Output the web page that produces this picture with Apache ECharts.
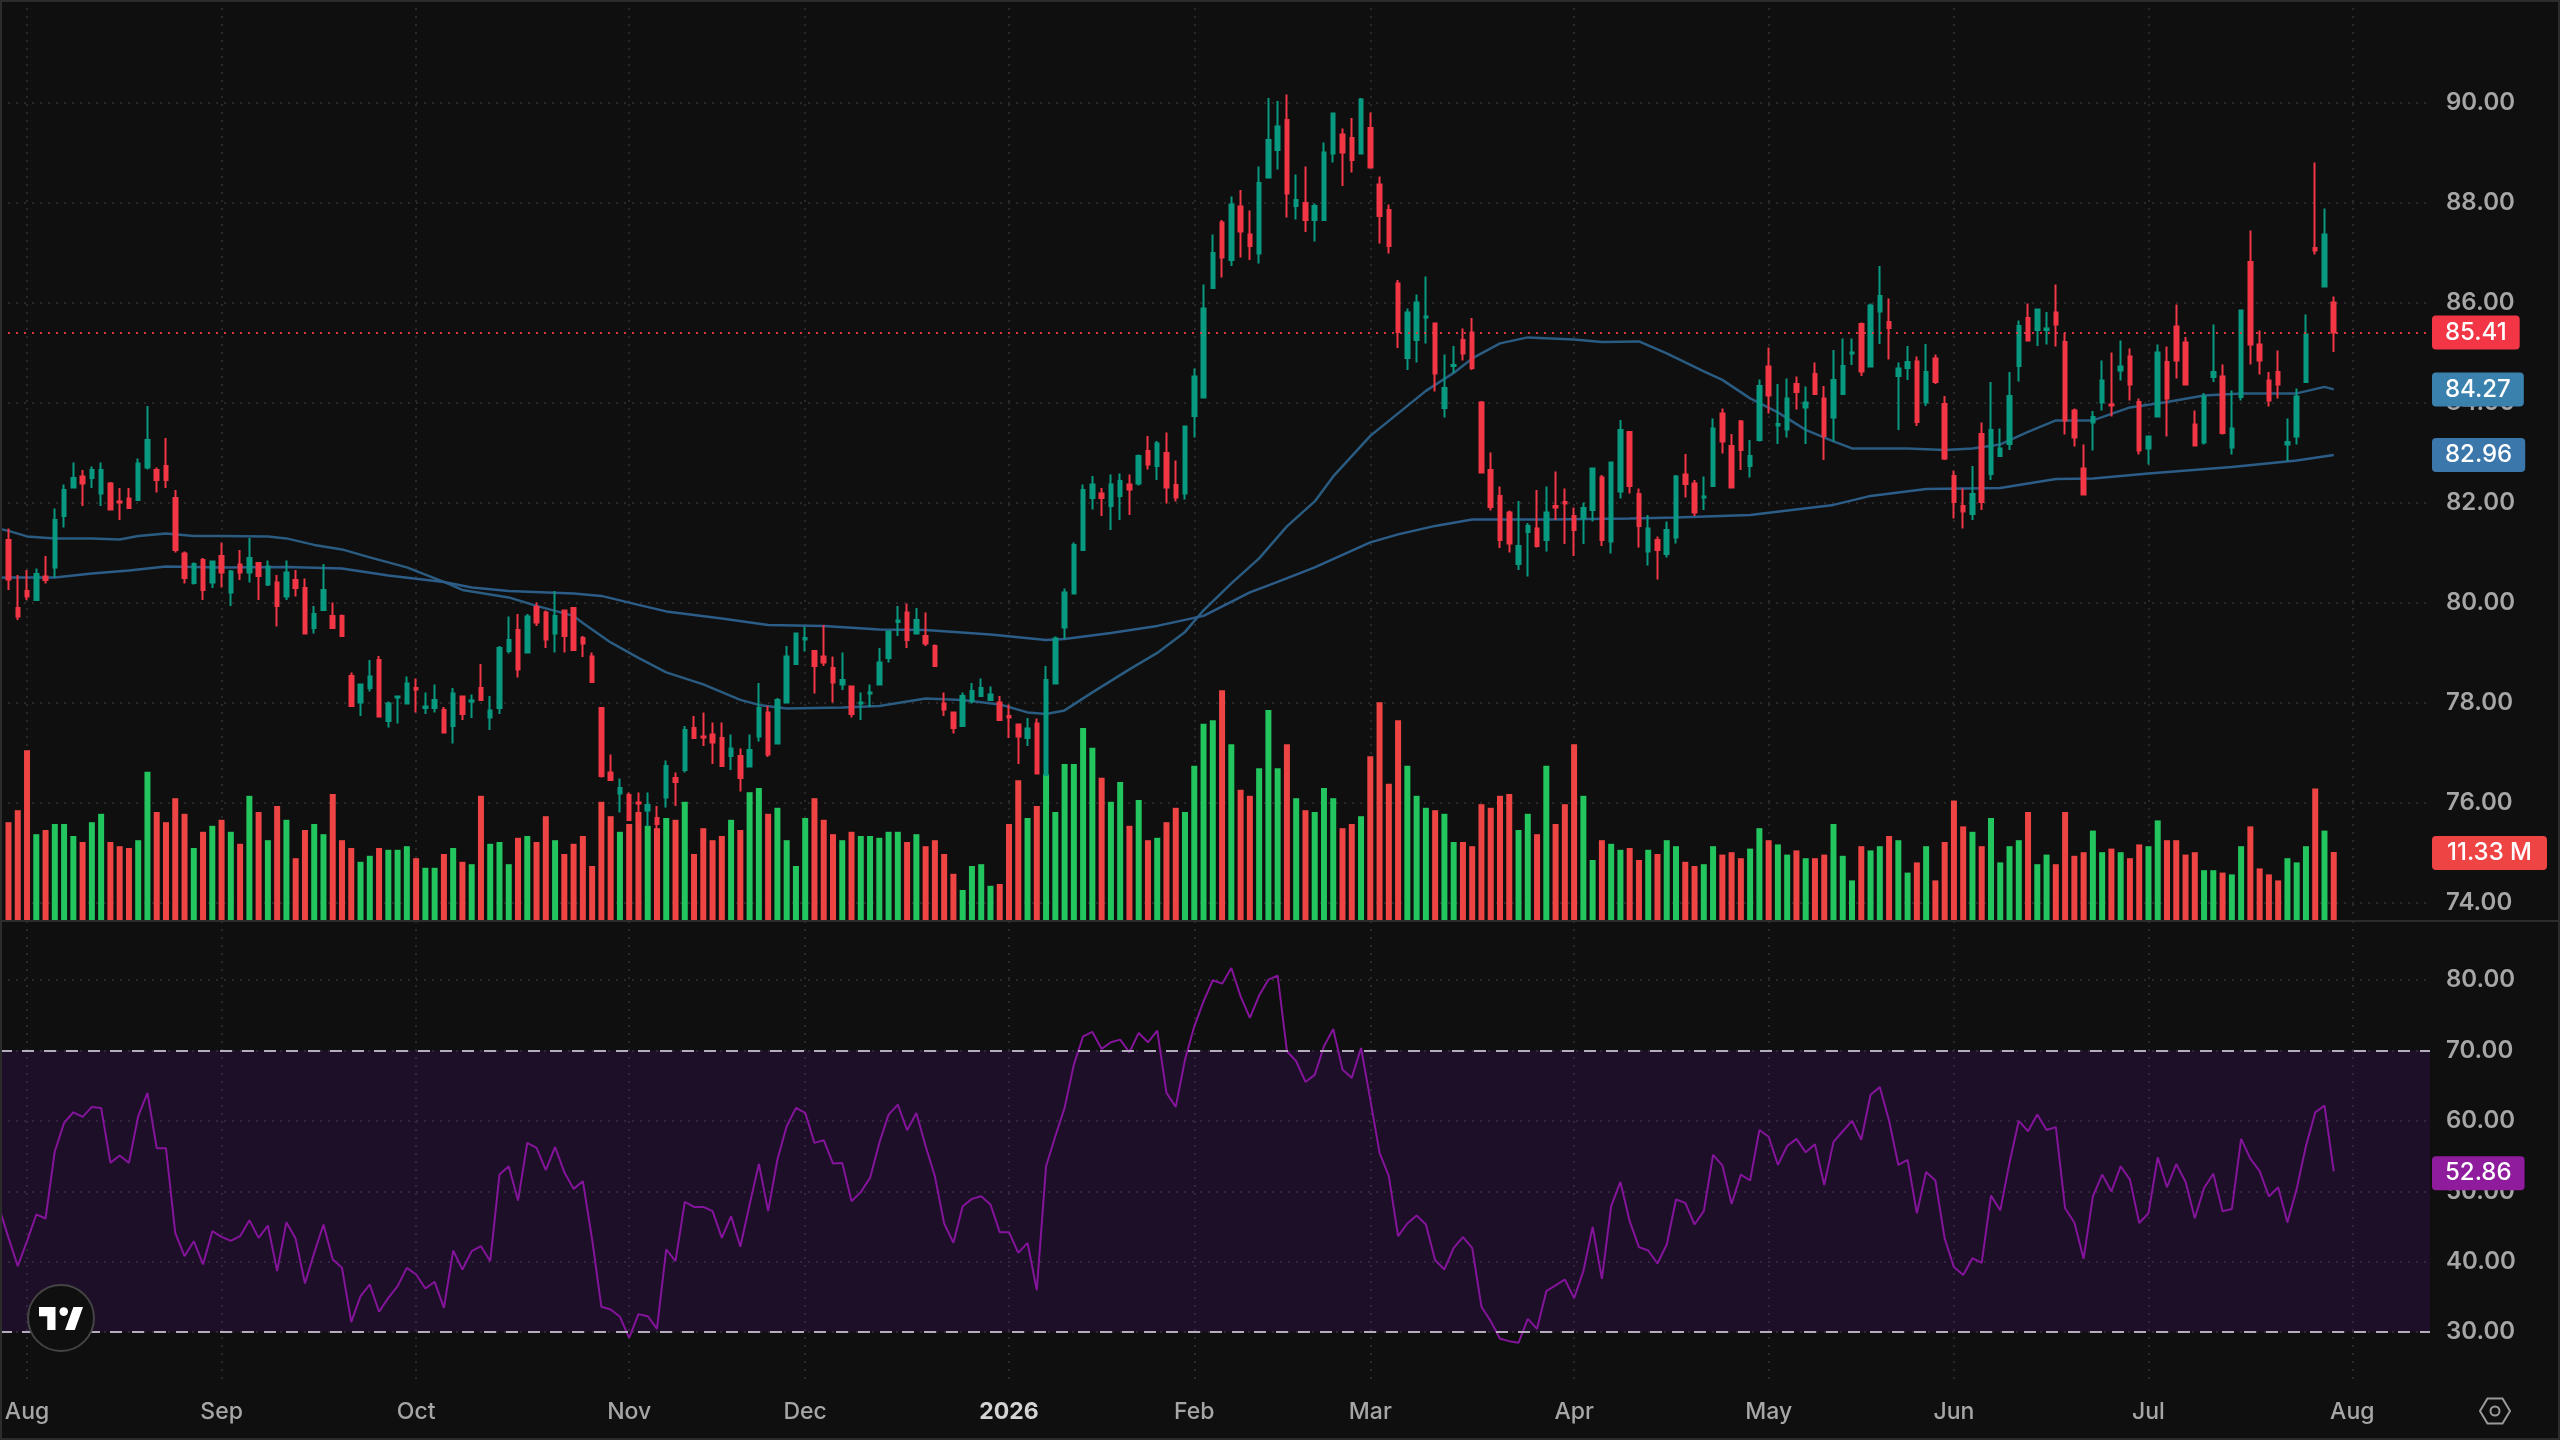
<!DOCTYPE html>
<html>
<head>
<meta charset="utf-8">
<title>Daily price, volume and RSI</title>
<script src="https://cdn.jsdelivr.net/npm/echarts@6/dist/echarts.min.js"></script>
<style>html,body{margin:0;background:#0f0f0f}#c{width:2560px;height:1440px}</style>
</head>
<body>
<div id="c"></div>
<script>
// Session rows: open, close, low, high
const ohlc = [
[81.26,80.47,80.26,81.49],[79.9,79.73,79.66,80.56],[80.24,80.13,80.06,80.66],[80.06,80.58,80.06,80.69],[80.53,80.46,80.39,80.94],
[80.71,81.66,80.51,81.89],[81.74,82.26,81.51,82.37],[82.31,82.5,82.31,82.81],[82.53,82.39,81.94,82.66],[82.5,82.66,82.3,82.73],
[82.19,82.66,81.94,82.81],[82.39,81.87,81.86,82.42],[82.03,82.01,81.66,82.3],[82.09,81.9,81.9,82.3],[82.06,82.79,82.06,82.89],
[82.71,83.26,82.67,83.94],[82.66,82.46,82.21,82.71],[82.74,82.46,82.3,83.3],[82.1,81.06,81.01,82.26],[80.99,80.5,80.39,81.03],
[80.4,80.78,80.37,80.81],[80.86,80.26,80.06,80.9],[80.41,80.83,80.3,80.85],[80.94,80.61,80.31,81.21],[80.21,80.63,79.94,80.66],
[80.77,80.61,80.46,81.06],[80.61,80.9,80.41,81.3],[80.8,80.54,80.06,80.81],[80.37,80.73,80.34,80.85],[80.41,79.94,79.53,80.56],
[80.13,80.61,80.06,80.85],[80.46,80.3,80.13,80.66],[80.3,79.39,79.39,80.49],[79.5,79.78,79.39,79.94],[79.86,80.26,79.86,80.78],
[79.74,79.5,79.5,80.01],[79.74,79.34,79.34,79.77],[78.54,77.94,77.94,78.61],[78.01,78.37,77.74,78.37],[78.3,78.53,78.23,78.86],
[78.86,77.73,77.73,78.94],[77.64,77.99,77.51,78.03],[78.11,78.13,77.59,78.14],[77.99,78.39,77.97,78.53],[78.3,78.27,77.81,78.49],
[77.9,77.93,77.78,78.21],[77.9,78.06,77.81,78.37],[77.86,77.41,77.39,77.92],[77.54,78.19,77.19,78.3],[78.13,77.78,77.66,78.14],
[78.03,78.05,77.7,78.17],[78.3,78.06,78.06,78.78],[77.71,77.85,77.46,78.14],[77.9,79.1,77.78,79.14],[79.04,79.26,78.99,79.73],
[79.46,78.67,78.51,79.78],[79.01,79.73,79.01,79.78],[79.92,79.61,79.54,80.01],[79.81,79.27,79.1,79.85],[79.39,79.74,79.01,80.24],
[79.85,79.34,79.01,79.85],[79.9,79.06,79.06,79.9],[79.3,79.19,78.92,79.34],[78.93,78.42,78.42,79.01],[77.9,76.54,76.51,77.9],
[76.61,76.46,76.46,76.97],[76.19,76.3,75.81,76.49],[76.16,75.66,75.64,76.21],[76.01,75.99,75.6,76.21],[75.85,75.96,75.53,76.21],
[75.7,75.58,75.39,75.94],[76.11,76.74,75.91,76.85],[76.5,76.42,75.94,76.61],[76.66,77.46,76.61,77.54],[77.5,77.3,77.3,77.74],
[77.33,77.31,77.14,77.81],[77.37,77.21,76.78,77.61],[77.3,76.74,76.74,77.61],[76.94,77.09,76.66,77.37],[76.94,76.5,76.23,77.09],
[76.73,77.06,76.71,77.37],[77.33,77.9,77.23,78.4],[77.81,76.97,76.92,77.94],[77.19,78.06,77.19,78.1],[78.01,78.93,78.01,79.14],
[78.78,79.39,78.78,79.41],[79.27,79.3,79.03,79.53],[79.04,78.74,78.19,79.04],[78.93,78.81,78.74,79.56],[78.7,78.41,78.01,78.93],
[78.37,78.46,78.26,79.01],[78.33,77.78,77.71,78.33],[77.99,78.01,77.66,78.21],[78.19,78.21,77.92,78.37],[78.37,78.81,78.37,79.1],
[78.9,79.43,78.81,79.44],[79.62,79.65,79.34,79.94],[79.81,79.26,79.1,79.99],[79.39,79.66,79.37,79.9],[79.34,79.19,79.14,79.81],
[79.14,78.74,78.74,79.17],[77.99,77.87,77.74,78.21],[77.81,77.5,77.39,77.81],[77.54,78.14,77.54,78.21],[78.04,78.24,77.99,78.4],
[78.14,78.3,78.14,78.49],[78.06,78.17,78.06,78.33],[78.01,77.66,77.66,78.14],[77.74,77.71,77.3,77.97],[77.57,77.33,76.78,77.57],
[77.3,77.49,77.14,77.7],[77.59,76.59,76.59,77.69],[76.56,78.46,76.56,78.74],[78.39,79.29,78.39,79.33],[79.51,80.21,79.28,80.29],
[80.19,81.16,80.19,81.21],[81.06,82.26,81.06,82.37],[82.1,82.37,81.87,82.54],[82.19,82.1,81.74,82.3],[81.94,82.37,81.46,82.57],
[82.14,82.44,81.66,82.59],[82.37,82.27,81.76,82.57],[82.39,82.94,82.35,82.97],[83.04,82.77,82.67,83.34],[82.74,83.19,82.46,83.24],
[83.0,82.31,81.99,83.41],[82.36,82.11,82.03,82.85],[82.19,83.53,82.07,83.53],[83.74,84.53,83.31,84.69],[84.11,85.89,84.11,86.37],
[86.3,87.0,86.28,87.37],[87.61,86.91,86.51,87.66],[86.86,87.97,86.74,88.13],[87.93,87.43,86.91,88.26],[87.37,87.14,86.86,87.85],
[86.99,88.4,86.79,88.73],[88.51,89.26,88.51,90.1],[89.06,89.53,88.67,90.04],[89.66,88.19,87.71,90.17],[87.94,88.06,87.67,88.57],
[88.0,87.66,87.42,88.73],[87.66,87.94,87.23,87.99],[87.66,89.01,87.66,89.21],[88.99,89.79,88.81,89.81],[89.37,89.01,88.34,89.49],
[89.3,88.86,88.61,89.7],[88.99,90.07,88.99,90.1],[89.5,88.71,88.71,89.81],[88.37,87.74,87.19,88.53],[87.86,87.14,86.99,87.97],
[86.39,85.42,85.1,86.46],[84.9,85.81,84.66,85.89],[85.26,86.01,84.81,86.17],[85.71,85.73,85.19,86.53],[85.59,84.59,84.23,85.6],
[83.9,84.3,83.71,84.97],[84.74,84.76,84.6,85.14],[85.26,84.99,84.85,85.49],[85.41,84.7,84.66,85.7],[84.01,82.61,82.61,84.04],
[82.66,81.92,81.85,83.01],[82.14,81.26,81.1,82.33],[81.81,81.19,81.01,81.85],[80.78,81.14,80.66,82.04],[81.42,81.54,80.53,81.6],
[81.49,81.14,81.11,82.26],[81.26,81.81,81.03,82.33],[81.94,81.91,81.66,82.63],[82.02,81.99,81.18,82.29],[81.74,81.46,80.94,81.91],
[81.69,81.9,81.18,82.01],[81.86,82.69,81.63,82.69],[82.51,81.26,81.14,82.56],[81.23,82.81,80.99,82.83],[82.23,83.46,82.09,83.66],
[83.42,82.34,82.19,83.42],[82.18,81.54,81.11,82.29],[81.03,81.49,80.75,81.76],[81.26,81.06,80.47,81.33],[80.98,81.46,80.91,81.63],
[81.31,82.53,81.19,82.56],[82.57,82.38,82.11,82.98],[82.39,81.81,81.74,82.46],[82.11,82.13,81.86,82.53],[82.34,83.49,82.34,83.69],
[83.79,83.23,82.99,83.89],[83.14,82.31,82.31,83.38],[83.63,83.06,82.66,83.66],[82.74,82.94,82.51,83.26],[83.26,84.34,83.23,84.47],
[84.73,84.15,83.79,85.11],[83.55,83.58,83.18,84.38],[83.47,84.09,83.31,84.49],[84.38,84.22,83.87,84.53],[83.91,84.01,83.18,84.33],
[84.58,84.18,84.18,84.81],[84.09,83.34,82.86,84.34],[83.71,84.46,83.23,85.06],[84.18,84.74,84.18,85.29],[84.99,85.01,84.76,85.29],
[85.58,84.63,84.54,85.61],[84.73,85.95,84.71,85.99],[85.83,86.14,85.18,86.74],[85.62,85.5,84.87,86.09],[84.54,84.69,83.46,84.81],
[84.7,84.82,84.46,85.14],[84.83,83.62,83.54,84.93],[84.01,84.62,83.94,85.18],[84.89,84.42,84.38,84.97],[83.98,82.89,82.86,84.14],
[82.54,82.02,81.69,82.65],[81.94,81.83,81.49,82.29],[81.78,82.18,81.66,82.74],[83.38,82.02,81.86,83.61],[82.58,83.46,82.46,84.42],
[82.94,83.09,82.93,83.49],[83.18,84.14,83.06,84.62],[84.74,85.54,84.43,85.65],[85.7,85.25,85.23,85.99],[85.46,85.87,85.14,85.89],
[85.46,85.49,85.17,85.82],[85.81,85.57,85.13,86.37],[85.22,83.65,83.37,85.4],[83.85,83.31,83.13,83.89],[82.69,82.17,82.17,83.17],
[83.61,83.72,83.05,83.84],[84.01,84.45,83.85,84.85],[83.97,83.95,83.73,85.01],[84.65,84.73,84.45,85.25],[84.93,84.37,84.05,85.09],
[84.02,83.05,82.97,84.09],[83.09,83.33,82.77,83.35],[83.73,85.01,83.73,85.17],[84.82,84.09,83.33,85.13],[85.53,84.85,84.49,85.97],
[85.21,84.37,84.37,85.32],[83.57,83.15,83.13,83.85],[83.21,84.13,83.17,84.2],[84.52,84.62,84.42,85.57],[84.53,83.4,83.37,84.77],
[83.11,83.49,82.97,84.25],[84.12,85.85,84.05,85.85],[86.82,85.17,84.77,87.45],[85.17,84.85,84.57,85.45],[84.45,84.05,83.93,84.62],
[84.62,84.37,84.09,85.05],[83.17,83.22,82.84,83.69],[83.33,84.13,83.17,84.29],[84.42,85.37,84.42,85.77],[87.1,87.05,86.97,88.81],
[86.33,87.37,86.33,87.89],[86.01,85.41,85.02,86.13]
];

// Session volume, in millions
const volume = [
16.3,18.3,28.3,14.3,15,16,16,14,13,16.3,17.7,13,12.3,12,13.3,24.7,18,16.3,20.3,17.7,
12,14.7,15.7,16.7,14.7,12.7,20.7,18,13.3,19,16.7,10.3,15,16,14.3,21,13.3,12,9.7,10.7,
12,11.7,11.7,12.3,10.3,8.7,8.7,11,12,9.7,9.3,20.7,12.7,13,9.3,13.7,14,13,17.3,13.3,
11,12.7,14,9,19.7,17.3,14.7,16,18,15.7,15.3,17,16.7,19.7,11,15.3,13.3,14,16.7,15,
21.3,22,17.7,18.7,13.3,9,17,20.3,16.7,14.3,13.3,14.7,14,14,13.7,14.7,14.7,13,14.3,12.3,
13.3,11,7.7,5,9,9.3,5.7,6,16,23.3,17,19,24.3,18,26,26,32,28.7,23.7,19.7,
23,15.7,20,13.3,13.7,16.3,18.7,18,25.7,32.7,33.3,38.3,29.3,21.7,20.7,25.3,35,25.3,29.3,20.3,
18.3,18,22,20.3,15.3,16,17.3,27.3,36.3,22.7,33.3,25.7,20.7,18.7,18.3,17.7,13,13,12.3,19.3,
18.7,20.7,21,15,17.7,14.3,25.7,16,19.3,29.3,20.7,10,13.3,12.7,11.7,12,10,11.7,11,13.3,
12.3,9.7,9,9.3,12.3,10.9,11.3,10.3,11.9,15.3,13.3,12.6,10.9,11.6,10.3,10.3,10.9,16,10.7,6.6,
12.3,11.6,12.3,14,13.3,7.9,9.6,12.3,6.6,13,19.9,15.6,14.7,12.3,17,9.6,12.3,13.3,18,9.3,
10.9,9.3,18,10.7,11.3,14.9,11.3,11.9,11.3,10.3,12.6,12.3,16.6,13.3,13.3,10.9,11.3,8.3,8.3,7.9,
7.6,12.3,15.6,8.6,7.6,6.6,10.3,9.6,12.3,21.9,14.9,11.33
];

// Relative strength, one reading per session
const rsi = [
43.4,39.38,42.93,46.72,46.15,55.71,59.73,61.24,60.58,62,61.86,54.05,55.09,54.05,60.68,63.99,56.13,56.13,44.11,40.8,
42.93,39.62,44.35,43.54,42.98,43.64,45.91,43.4,45.15,38.67,45.63,43.26,36.92,41.27,45.3,40.33,39.14,31.43,35.12,36.78,
32.9,34.88,36.54,39.14,38.2,36.21,37.16,33.46,41.6,38.91,41.51,42.22,40.09,52.39,53.58,48.7,56.89,56.18,53.01,56.28,
52.73,50.36,51.45,43.17,33.61,33.23,32.19,29.2,32.57,32.28,30.48,41.75,40.09,48.51,47.8,47.8,47.19,43.4,46.48,42.13,
48.14,53.91,47.19,54.52,59.26,61.86,61.15,56.89,57.27,53.96,54.05,48.61,49.9,51.92,56.89,60.91,62.33,58.69,61.15,56.42,
52.16,45.44,42.69,47.9,48.94,49.32,48.14,44.21,44.21,41.27,42.69,35.97,53.58,57.84,61.86,68.01,72.03,72.65,70.24,71.18,
71.56,69.76,72.51,71.18,72.84,63.99,62,68.72,73.45,77,79.99,79.51,81.74,77.71,74.64,77.81,80.08,80.65,69.91,68.49,
65.55,66.55,70.62,73.08,67.3,66.12,70.38,63.04,55.47,52.16,43.64,45.44,46.57,45.3,40.23,38.91,41.98,43.5,41.98,33.61,
31.57,29.06,28.73,28.5,31.9,30.48,35.83,36.64,37.49,34.84,38.67,44.96,37.58,47.9,51.35,45.77,42.08,41.6,39.76,42.46,
48.85,48.37,45.3,47.19,55.2,53.7,48.2,52.39,51.55,58.72,57.76,53.76,56.45,57.46,55.55,56.69,50.9,57.04,58.54,60.03,
57.34,63.73,64.81,60.03,53.76,54.48,46.9,52.75,51.55,43.31,39.25,38.12,40.51,39.85,49.4,47.31,54.06,60.03,58.54,60.93,
58.72,59.13,47.61,45.58,40.45,49.28,52.39,50,53.58,51.67,45.52,46.9,54.84,50.6,53.88,51.37,46.18,50.48,52.51,47.19,
47.49,57.46,54.66,52.87,49.28,50.6,45.58,50.36,56.45,61.22,62.18,52.86
];
// Reading for the session just before the first full candle, at the pane's left edge
const rsiBefore = 47.66;

// Moving averages as [session, value] readings
const maFast = [
[-1,81.48],[0,81.44],[2,81.33],[5,81.29],[9,81.29],[12,81.27],[14,81.34],[17,81.39],[20,81.34],[23,81.34],[28,81.33],[30,81.29],[33,81.16],[36,81.07],[39,80.91],
[43,80.71],[47,80.42],[49,80.26],[54,80.11],[57,79.94],[61,79.74],[62,79.6],[65,79.21],[68,78.9],[71,78.61],[75,78.37],[79,78.06],[81,77.96],[84,77.89],
[90,77.91],[94,77.94],[99,78.09],[103,78.06],[107,77.97],[110,77.81],[112,77.78],[114,77.85],[117,78.21],[121,78.67],[124,79],[127,79.42],[129,79.85],
[132,80.39],[135,80.89],[138,81.53],[141,82.03],[143,82.53],[147,83.34],[153,84.24],[156,84.6],[158,84.89],[161,85.19],[164,85.31],[169,85.27],[172,85.22],
[176,85.23],[179,84.99],[183,84.63],[185,84.46],[188,84.09],[191,83.81],[194,83.46],[197,83.23],[199,83.09],[205,83.09],[209,83.06],[212,83.09],[215,83.17],
[218,83.42],[221,83.65],[225,83.65],[229,83.91],[233,84.02],[237,84.15],[241,84.19],[247,84.19],[250,84.32],[251,84.27]
];
const maSlow = [
[-1,80.5],[0,80.51],[5,80.51],[9,80.59],[13,80.65],[17,80.73],[23,80.71],[30,80.72],[36,80.69],[41,80.55],[47,80.42],[50,80.31],[54,80.24],[61,80.19],[64,80.14],
[68,79.96],[71,79.83],[77,79.69],[82,79.56],[88,79.54],[94,79.47],[99,79.46],[106,79.37],[112,79.26],[114,79.28],[119,79.4],[124,79.54],[129,79.74],
[134,80.21],[137,80.42],[141,80.71],[147,81.21],[150,81.37],[154,81.54],[158,81.67],[166,81.67],[175,81.69],[180,81.71],[188,81.76],[197,81.96],[201,82.14],
[207,82.28],[215,82.3],[221,82.48],[225,82.49],[231,82.59],[240,82.72],[247,82.85],[251,82.96]
];

// Time axis ticks: session index and label
const tickSessions = [2,23,44,67,86,108,128,147,169,190,210,231,253];
const tickLabels = ['Aug','Sep','Oct','Nov','Dec','2026','Feb','Mar','Apr','May','Jun','Jul','Aug'];

const lastPrice = 85.41, lastFast = 84.27, lastSlow = 82.96, lastVolume = 11.33, lastRsi = 52.86;

const UP = '#089981', DOWN = '#F23645', VOL_UP = '#22c55e', VOL_DOWN = '#ef4444';
const BG = '#0f0f0f', GRID = '#333333', TEXT = '#a6a6a6';
const FONT = 'Inter, "Noto Sans", sans-serif';
const dotted = { color: GRID, width: 1.5, type: [2, 6] };

// Session range shared by all panes, so the panes stay aligned
const sessionMin = -0.9175, sessionMax = 261.39;
const paneX = { left: 0, width: 2430 };

function sessionAxis(gridIndex, showLines, showLabels) {
  return {
    type: 'value', gridIndex, min: sessionMin, max: sessionMax, scale: true,
    axisLine: { show: false },
    axisTick: { show: false, customValues: tickSessions },
    splitLine: { show: showLines, lineStyle: dotted },
    axisLabel: {
      show: showLabels, customValues: tickSessions, margin: 21, color: TEXT, fontFamily: FONT, fontSize: 23, fontWeight: 500,
      formatter: v => { const s = tickLabels[tickSessions.indexOf(v)]; return s === '2026' ? '{y|2026}' : s; },
      rich: { y: { color: '#d4d4d4', fontFamily: FONT, fontSize: 23, fontWeight: 700 } }
    }
  };
}

function tag(text, bg) {
  return {
    show: true, position: 'end', distance: 2, formatter: text, color: '#ffffff', backgroundColor: bg, opacity: 1,
    fontFamily: FONT, fontSize: 24, fontWeight: 500, lineHeight: 34, padding: [0, 13], borderRadius: 4
  };
}

function levelLine(value, label, lineStyle) {
  return {
    silent: true, symbol: 'none', animation: false, precision: 2, label,
    lineStyle: lineStyle || { color: 'transparent', width: 0 },
    data: [{ yAxis: value }]
  };
}

const chart = echarts.init(document.getElementById('c'), null, { renderer: 'canvas' });
chart.setOption({
  animation: false,
  backgroundColor: BG,
  grid: [
    Object.assign({ top: 0, height: 920 }, paneX),       // volume and vertical rules
    Object.assign({ top: 2.9, height: 900 }, paneX),     // price
    Object.assign({ top: 921, height: 459 }, paneX),     // time axis and vertical rules
    Object.assign({ top: 909.8, height: 492.8 }, paneX)  // RSI
  ],
  xAxis: [sessionAxis(0, true, false), sessionAxis(1, false, false), sessionAxis(2, true, true), sessionAxis(3, false, false)],
  yAxis: [
    { type: 'value', gridIndex: 0, min: 0, max: 153.33, show: false, splitLine: { show: false } },
    {
      type: 'value', gridIndex: 1, position: 'right', min: 74, max: 92, interval: 2,
      axisLine: { show: false }, axisTick: { show: false },
      axisLabel: { margin: 16, showMaxLabel: false, color: TEXT, fontFamily: FONT, fontSize: 24, fontWeight: 600, formatter: v => v.toFixed(2) },
      splitLine: { show: true, showMaxLine: false, lineStyle: dotted }
    },
    { type: 'value', gridIndex: 2, min: 0, max: 1, show: false, splitLine: { show: false } },
    {
      type: 'value', gridIndex: 3, position: 'right', min: 20, max: 90, interval: 10,
      axisLine: { show: false }, axisTick: { show: false },
      axisLabel: { margin: 16, showMaxLabel: false, showMinLabel: false, color: TEXT, fontFamily: FONT, fontSize: 24, fontWeight: 600, formatter: v => v.toFixed(2) },
      splitLine: { show: true, showMaxLine: false, showMinLine: false, lineStyle: dotted }
    }
  ],
  series: [
    {
      name: 'Volume', type: 'bar', xAxisIndex: 0, yAxisIndex: 0, barWidth: 6, z: 1,
      data: volume.map((v, i) => ({
        value: [i, v],
        itemStyle: { color: ohlc[i][1] >= ohlc[i][0] ? VOL_UP : VOL_DOWN }
      })),
      markLine: levelLine(lastVolume, Object.assign(tag('11.33 M', VOL_DOWN), { padding: [0, 15], offset: [0, 1] }))
    },
    {
      name: 'Fast average', type: 'line', xAxisIndex: 1, yAxisIndex: 1, data: maFast, showSymbol: false, z: 2,
      lineStyle: { color: '#2a5b80', width: 2.5 },
      markLine: levelLine(lastFast, tag('84.27', '#3a82ad'))
    },
    {
      name: 'Slow average', type: 'line', xAxisIndex: 1, yAxisIndex: 1, data: maSlow, showSymbol: false, z: 2,
      lineStyle: { color: '#2c5c88', width: 2.5 },
      markLine: levelLine(lastSlow, tag('82.96', '#3b77ab'))
    },
    {
      name: 'Price', type: 'candlestick', xAxisIndex: 1, yAxisIndex: 1, z: 3, barWidth: 4,
      encode: { x: 0, y: [1, 2, 3, 4] },
      data: ohlc.map((r, i) => [i, r[0], r[1], r[2], r[3]]),
      itemStyle: { color: UP, color0: DOWN, borderColor: UP, borderColor0: DOWN, borderWidth: 2 },
      markLine: levelLine(lastPrice, tag('85.41', DOWN), { color: DOWN, width: 2, type: [2, 6], opacity: 0.9 })
    },
    {
      name: 'RSI', type: 'line', xAxisIndex: 3, yAxisIndex: 3, z: 3, showSymbol: false,
      data: [[-1, rsiBefore]].concat(rsi.map((v, i) => [i, v])),
      lineStyle: { color: '#84149a', width: 2 },
      markArea: {
        silent: true, itemStyle: { color: 'rgba(122,22,201,0.14)' },
        data: [[{ yAxis: 70 }, { yAxis: 30 }]]
      },
      markLine: {
        silent: true, symbol: 'none', precision: 2,
        lineStyle: { color: '#b5adbd', width: 2, type: [12, 10] },
        label: { show: false },
        data: [{ yAxis: 70 }, { yAxis: 30 }]
      }
    },
    {
      name: 'RSI value', type: 'line', xAxisIndex: 3, yAxisIndex: 3, z: 4, showSymbol: false, data: [],
      markLine: levelLine(lastRsi, Object.assign(tag('52.86', '#8e1c9c'), { offset: [0, 2] }))
    }
  ],
  graphic: [
    { type: 'rect', silent: true, z: 50, shape: { x: 1, y: 1, width: 2558, height: 1438 }, style: { fill: 'transparent', stroke: '#2c2c2c', lineWidth: 2 } },
    { type: 'line', silent: true, z: 50, shape: { x1: 0, y1: 921, x2: 2560, y2: 921 }, style: { stroke: '#2c2c2c', lineWidth: 2 } },
    // Badge bottom left
    { type: 'circle', silent: true, z: 60, shape: { cx: 61, cy: 1318, r: 33 }, style: { fill: '#0f0f0f', stroke: '#444444', lineWidth: 2 } },
    { type: 'polygon', silent: true, z: 61, shape: { points: [[55.5, 1307], [39, 1307], [39, 1316.2], [47.25, 1316.2], [47.25, 1330], [55.5, 1330]] }, style: { fill: '#ffffff' } },
    { type: 'polygon', silent: true, z: 61, shape: { points: [[74.75, 1330], [65.1, 1330], [73.4, 1307], [83, 1307]] }, style: { fill: '#ffffff' } },
    { type: 'circle', silent: true, z: 61, shape: { cx: 63.75, cy: 1311.6, r: 4.3 }, style: { fill: '#ffffff' } },
    // Settings glyph bottom right
    { type: 'polygon', silent: true, z: 60, shape: { points: [[2480, 1411], [2487.5, 1398.5], [2502.5, 1398.5], [2510, 1411], [2502.5, 1423.5], [2487.5, 1423.5]] }, style: { fill: 'transparent', stroke: '#9a9a9a', lineWidth: 2 } },
    { type: 'circle', silent: true, z: 60, shape: { cx: 2495, cy: 1411, r: 4.5 }, style: { fill: 'transparent', stroke: '#9a9a9a', lineWidth: 2 } }
  ]
});
</script>
</body>
</html>
